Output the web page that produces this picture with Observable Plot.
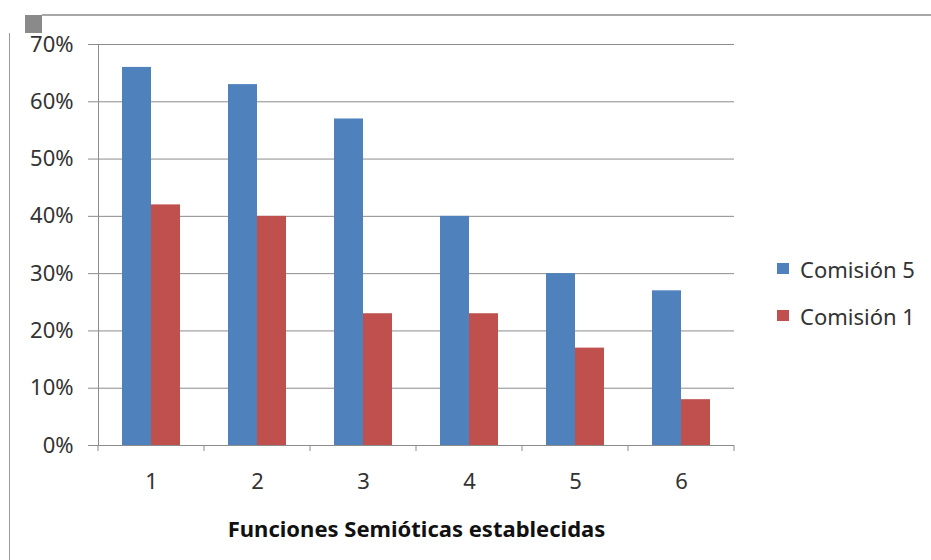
<!DOCTYPE html>
<html>
<head>
<meta charset="utf-8">
<script src="https://cdn.jsdelivr.net/npm/d3@7"></script>
<script src="https://cdn.jsdelivr.net/npm/@observablehq/plot@0.6"></script>
<style>
  body { margin: 0; background: #fff; }
  #wrap { position: relative; width: 931px; height: 560px; font-family: "Noto Sans", sans-serif; overflow: hidden; }
  #wrap svg { position: absolute; left: 0; top: 0; }
  .deco { position: absolute; }
  #legend { position: absolute; left: 777px; top: 245px; font-size: 22px; color: #333; }
  #legend .row { height: 47px; display: flex; align-items: center; }
  #legend .sw { width: 12px; height: 11px; margin-right: 11px; }
</style>
</head>
<body>
<div id="wrap">
  <div class="deco" style="left:42px;top:14px;width:889px;height:2px;background:#a8a8a8;"></div>
  <div class="deco" style="left:25px;top:15px;width:17px;height:18px;background:#8a8a8a;"></div>
  <div class="deco" style="left:9px;top:33px;width:1px;height:527px;background:#9a9a9a;"></div>
  <div id="legend"></div>
</div>
<script>
const categories = ["1", "2", "3", "4", "5", "6"];
const series = ["Comisión 5", "Comisión 1"];
const comision5 = [0.66, 0.63, 0.57, 0.40, 0.30, 0.27];
const comision1 = [0.42, 0.40, 0.23, 0.23, 0.17, 0.08];
const yTicks = [0, 0.1, 0.2, 0.3, 0.4, 0.5, 0.6, 0.7];
const colors = ["#4F81BD", "#C0504D"];
const xTitle = "Funciones Semióticas establecidas";

const values = [comision5, comision1];
const data = categories.flatMap((c, i) => series.map((s, j) => ({cat: c, serie: s, value: values[j][i]})));

const gridColor = "#8c8c8c";

const boundaryTicks = Plot.frame({
  facet: "super",
  render: (index, scales, vals, dims) => {
    const g = d3.create("svg:g").attr("stroke", gridColor);
    const fx = scales.fx, y = scales.y;
    if (!fx || !fx.bandwidth || !y) return g.node();
    const edges = categories.map(c => fx(c));
    edges.push(fx(categories[categories.length - 1]) + fx.bandwidth());
    const y0 = y(0);
    g.selectAll("line").data(edges).join("line")
      .attr("x1", d => d).attr("x2", d => d)
      .attr("y1", y0).attr("y2", y0 + 6);
    return g.node();
  }
});

const chart = Plot.plot({
  width: 931,
  height: 560,
  marginLeft: 97,
  marginRight: 197,
  marginTop: 44,
  marginBottom: 115,
  style: {fontFamily: "'Noto Sans', sans-serif", fontSize: "22px", color: "#333", background: "transparent"},
  fx: {domain: categories, padding: 0},
  x: {domain: series, paddingInner: 0, paddingOuter: 0.77, axis: null},
  y: {domain: [0, 0.7], axis: null},
  color: {domain: series, range: colors},
  marks: [
    Plot.gridY(yTicks, {stroke: gridColor, strokeOpacity: 1}),
    Plot.axisY(yTicks, {tickFormat: d3.format(".0%"), tickSize: 10, tickPadding: 15, stroke: gridColor, fill: "#333", fontSize: 22, label: null}),
    Plot.frame({anchor: "left", facet: "super", stroke: gridColor}),
    Plot.barY(data, {fx: "cat", x: "serie", y: "value", fill: "serie"}),
    boundaryTicks,
    Plot.axisFx({anchor: "bottom", tickSize: 0, tickPadding: 28, fontSize: 22, fill: "#333", label: null}),
    Plot.text([xTitle], {facet: "super", frameAnchor: "bottom", lineAnchor: "bottom", dy: 91, fontWeight: "bold", fontSize: 22, fill: "#111"})
  ]
});

const wrap = document.getElementById("wrap");
wrap.insertBefore(chart, wrap.firstChild);

const legend = d3.select("#legend");
series.forEach((s, i) => {
  const row = legend.append("div").attr("class", "row");
  row.append("div").attr("class", "sw").style("background", colors[i]);
  row.append("span").text(s);
});
</script>
</body>
</html>
